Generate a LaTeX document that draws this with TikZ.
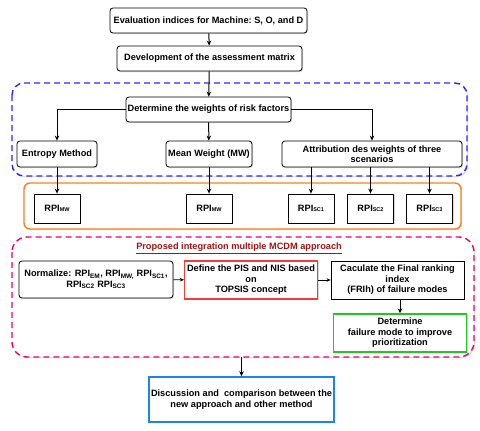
\documentclass[tikz,border=0pt]{standalone}
\usepackage{fontspec}
\setmainfont{Liberation Sans}
\usepackage{xcolor}
\usetikzlibrary{arrows.meta, shadows}

\definecolor{frameblue}{RGB}{40,40,255}
\definecolor{frameorange}{RGB}{245,130,30}
\definecolor{framepink}{RGB}{230,0,120}
\definecolor{boxred}{RGB}{240,60,60}
\definecolor{boxgreen}{RGB}{30,200,30}
\definecolor{boxblue}{RGB}{30,130,240}
\definecolor{titlered}{RGB}{160,20,20}

\begin{document}
\begin{tikzpicture}[x=1pt, y=-1pt, >={Stealth[length=5pt, width=4.5pt]},
  stepbox/.style={draw, line width=0.8pt, fill=white, align=center, inner sep=1pt,
    font=\fontsize{9.2}{10.5}\selectfont\bfseries,
    drop shadow={shadow xshift=1pt, shadow yshift=-1pt, opacity=0.3}},
  roundbox/.style={stepbox, rounded corners=3pt},
  rpibox/.style={stepbox, minimum width=46pt, minimum height=29pt},
  frame/.style={line width=1.4pt, fill=white,
    drop shadow={shadow xshift=1.2pt, shadow yshift=-1.2pt, opacity=0.3}},
  flow/.style={->, line width=1pt},
  thinflow/.style={-{Stealth[length=4pt, width=3.5pt]}, line width=0.6pt}]
  \useasboundingbox (0,0) rectangle (480,431);

  \draw[frame, draw=frameblue, dash pattern=on 6pt off 4pt, rounded corners=12pt] (12,83) rectangle (467,176);
  \draw[frame, draw=frameorange, rounded corners=6pt] (24,183) rectangle (461,229);
  \draw[frame, draw=framepink, dash pattern=on 6pt off 4pt, rounded corners=15pt] (12,237) rectangle (474,357);

  \node[roundbox, minimum width=197pt, minimum height=25pt] (eval) at (208.5,20.5) {Evaluation indices for Machine:\ S, O, and D};
  \node[roundbox, minimum width=185pt, minimum height=25pt] (dev) at (209.5,58.5) {Development of the assessment matrix};
  \node[roundbox, minimum width=165pt, minimum height=25pt] (det) at (208.5,109.5) {Determine the weights of risk factors};
  \node[roundbox, minimum width=80pt, minimum height=26pt] (ent) at (57,154) {Entropy Method};
  \node[roundbox, minimum width=86pt, minimum height=26pt] (mw) at (209,154) {Mean Weight (MW)};
  \node[roundbox, minimum width=180pt, minimum height=26pt] (attr) at (372,154) {Attribution des weights of three\\scenarios};

  \node[rpibox] (rpi1) at (57,208.5) {RPI{\fontsize{5.5}{6}\selectfont MW}};
  \node[rpibox] (rpi2) at (209,208.5) {RPI{\fontsize{5.5}{6}\selectfont MW}};
  \node[rpibox] (rpi3) at (311,208.5) {RPI{\fontsize{5.5}{6}\selectfont SC1}};
  \node[rpibox] (rpi4) at (370.5,208.5) {RPI{\fontsize{5.5}{6}\selectfont SC2}};
  \node[rpibox] (rpi5) at (429.5,208.5) {RPI{\fontsize{5.5}{6}\selectfont SC3}};

  \node[font=\fontsize{9.2}{10.5}\selectfont\bfseries, text=titlered] (title) at (239,248) {\underline{Proposed integration multiple MCDM approach}};
  \node[roundbox, minimum width=154pt, minimum height=37pt] (norm) at (96,279.5) {Normalize: RPI\textsubscript{EM}, RPI\textsubscript{MW,} RPI\textsubscript{SC1},\\RPI\textsubscript{SC2} RPI\textsubscript{SC3}};
  \node[stepbox, draw=boxred, line width=1.2pt, minimum width=133pt, minimum height=38pt] (pis) at (251,280) {Define the PIS and NIS based\\on\\TOPSIS concept};
  \node[stepbox, minimum width=133pt, minimum height=38pt] (fri) at (397.5,280) {Caculate the Final ranking\\index\\(FRIh) of failure modes};
  \node[stepbox, draw=boxgreen, line width=1.4pt, minimum width=133pt, minimum height=38pt] (detm) at (400,333) {Determine\\failure mode to improve\\prioritization};
  \coordinate (pinkbot) at (241.5,357);
  \node[stepbox, draw=boxblue, line width=1.4pt, minimum width=185pt, minimum height=45pt] (disc) at (241.5,399.5) {Discussion and\ \ comparison between the\\new approach and other method};

  \draw[flow] (eval) -- (dev);
  \draw[flow] (dev) -- (det);
  \draw[flow] (det.west) -| (ent);
  \draw[flow] (det) -- (mw);
  \draw[flow] (det.east) -| (attr);
  \draw[flow] (ent) -- (rpi1);
  \draw[flow] (mw) -- (rpi2);
  \draw[flow] (attr.south -| rpi3) -- (rpi3);
  \draw[flow] (attr.south -| rpi4) -- (rpi4);
  \draw[flow] (attr.south -| rpi5) -- (rpi5);
  \draw[thinflow] (norm) -- (pis);
  \draw[thinflow] (pis) -- (fri);
  \draw[flow] (fri.south -| detm) -- (detm);
  \draw[flow] (pinkbot) -- (disc);
\end{tikzpicture}
\end{document}
